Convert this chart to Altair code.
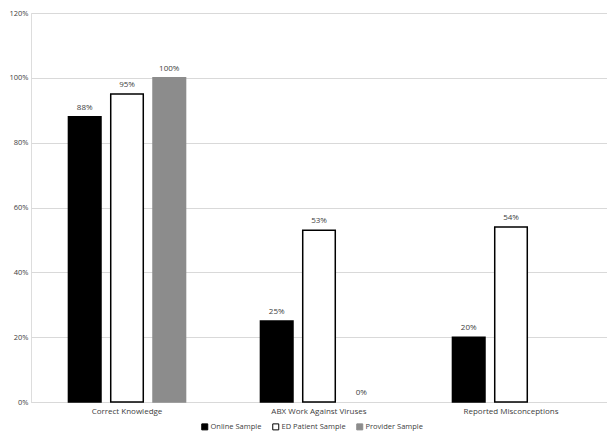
import altair as alt
import pandas as pd

categories = ["Correct Knowledge", "ABX Work Against Viruses", "Reported Misconceptions"]
series = ["Online Sample", "ED Patient Sample", "Provider Sample"]
online = [0.88, 0.25, 0.20]
ed_patient = [0.95, 0.53, 0.54]
provider = [1.00, 0.00, None]

rows = []
for s, vals in zip(series, [online, ed_patient, provider]):
    for c, v in zip(categories, vals):
        if v is not None:
            rows.append({"Category": c, "Series": s, "Value": v})
df = pd.DataFrame(rows)

font = "Open Sans"
txt = "#404040"

x = alt.X("Category:N", sort=categories, title=None,
          scale=alt.Scale(paddingInner=0.39, paddingOuter=0.195),
          axis=alt.Axis(labelAngle=0, labelFontSize=8, labelColor=txt, ticks=False,
                        domainColor="#d9d9d9", labelPadding=5, labelFont=font))
xo = alt.XOffset("Series:N", sort=series, scale=alt.Scale(paddingInner=0.23, paddingOuter=0))
y = alt.Y("Value:Q", title=None,
          scale=alt.Scale(domain=[0, 1.2]),
          axis=alt.Axis(values=[0, 0.2, 0.4, 0.6, 0.8, 1.0, 1.2], format=".0%", labelFontSize=7.5,
                        labelColor=txt, ticks=False, domain=False, gridColor="#d9d9d9",
                        labelPadding=3, labelFont=font))

color = alt.Color("Series:N", sort=series, title=None,
                  scale=alt.Scale(domain=series, range=["#000000", "#ffffff", "#8c8c8c"]),
                  legend=alt.Legend(orient="none", legendX=170, legendY=410,
                                    direction="horizontal", symbolType="square",
                                    symbolSize=36, labelFontSize=7.5, labelColor=txt,
                                    columnPadding=8, symbolStrokeWidth=1, labelFont=font,
                                    labelOffset=2))
stroke = alt.Stroke("Series:N", sort=series, title=None,
                    scale=alt.Scale(domain=series, range=["#000000", "#000000", "#8c8c8c"]))

bars = alt.Chart(df).transform_filter("datum.Value > 0").mark_bar(strokeWidth=1.5).encode(
    x=x, xOffset=xo, y=y, color=color, stroke=stroke
)
labels = alt.Chart(df).mark_text(baseline="bottom", dy=-5, fontSize=8, color=txt, font=font).encode(
    x=x, xOffset=xo, y=y, text=alt.Text("Value:Q", format=".0%")
)

chart = (bars + labels).properties(
    width=576, height=389,
    autosize=alt.AutoSizeParams(type="none"),
    padding={"left": 23, "top": 5, "right": 0, "bottom": 32}
).configure_view(stroke=None).configure(background="white")

chart.save("out.html", embed_options={"renderer": "svg", "actions": False})
